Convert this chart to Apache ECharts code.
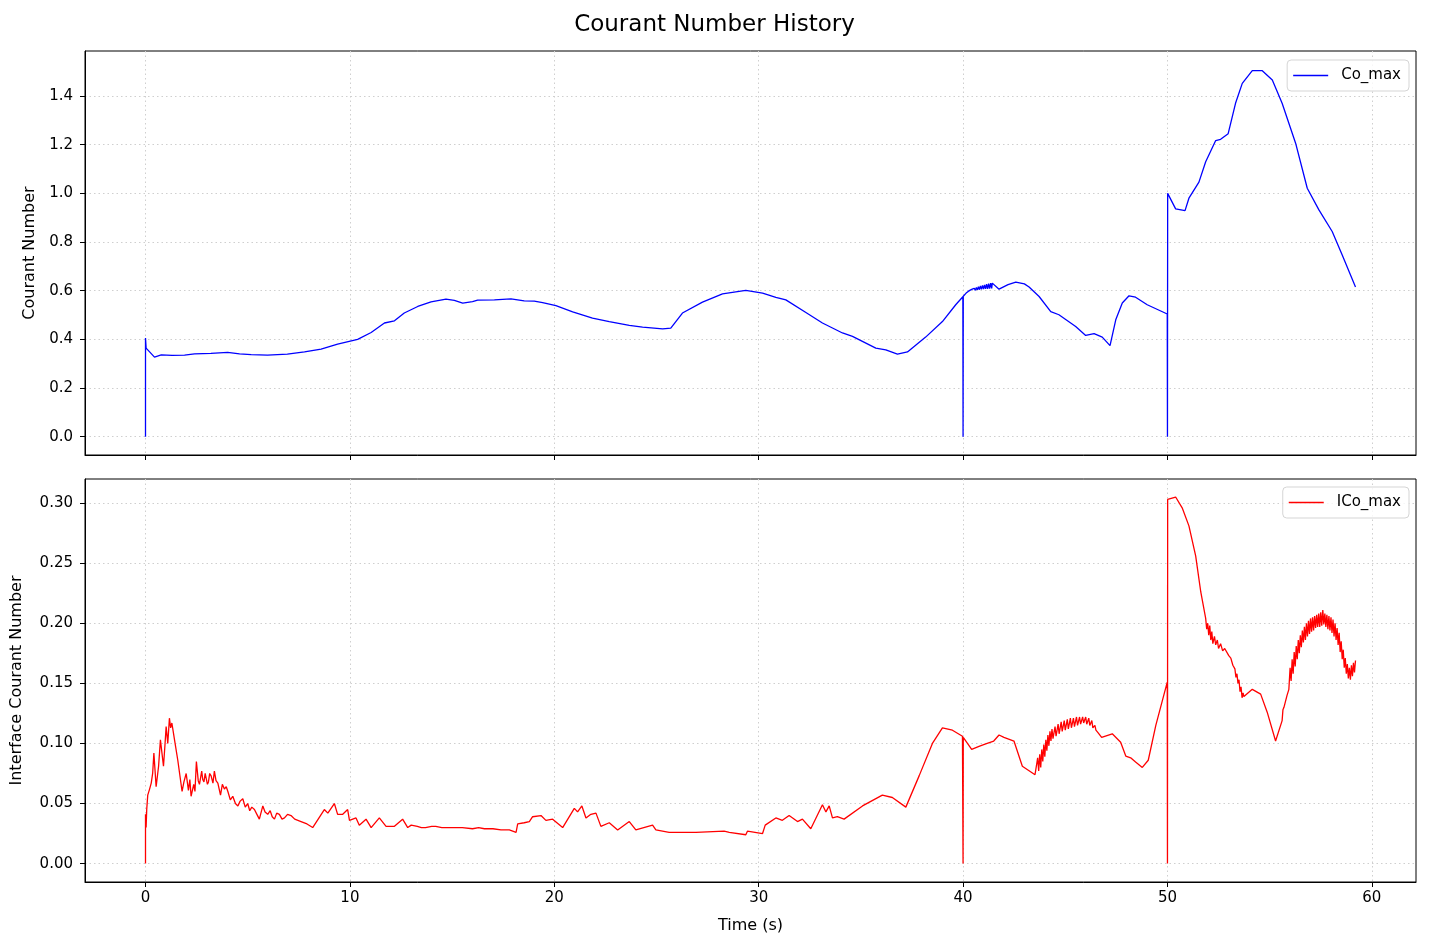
<!DOCTYPE html>
<html>
<head>
<meta charset="utf-8">
<script src="https://cdn.jsdelivr.net/npm/echarts@6/dist/echarts.min.js"></script>
<style>
html,body{margin:0;padding:0;background:#fff;}
#chart{width:1429px;height:949px;}
</style>
</head>
<body>
<div id="chart"></div>
<script>
// ---- Data ----
const coTime = [0, 0, 0.03, 0.44, 0.77, 1.3, 1.91, 2.40, 3.2, 4.02, 4.6, 5.17, 5.97, 6.94, 7.78, 8.59, 9.40, 10.38, 11.04, 11.69, 12.18, 12.66, 13.32, 13.97, 14.70, 15.11, 15.52, 16.0, 16.25, 17.07, 17.88, 18.53, 19.02, 19.43, 20.08, 20.9, 21.87, 22.69, 23.67, 24.32, 25.3, 25.7, 26.27, 27.25, 28.23, 29.37, 30.19, 30.84, 31.33, 32.31, 33.12, 34.1, 34.59, 35.73, 36.22, 36.79, 37.28, 38.17, 38.99, 39.64, 39.99, 40.0, 40.01,
  40.1, 40.15, 40.2, 40.25, 40.3, 40.35, 40.4, 40.45, 40.5, 40.55, 40.6, 40.65, 40.7, 40.75, 40.8, 40.85, 40.9, 40.95, 41.0, 41.05, 41.1, 41.15, 41.2, 41.25, 41.3, 41.35, 41.4, 41.43,
  41.76, 42.2, 42.58, 43.0, 43.23, 43.72, 44.29, 44.69, 45.51, 46.0, 46.41, 46.81, 47.19, 47.47, 47.79, 48.12, 48.44, 49.01, 49.99, 50.0, 50.01, 50.4, 50.86, 51.05, 51.54, 51.87, 52.36, 52.6, 52.97, 53.33, 53.66, 54.15, 54.64, 55.13, 55.61, 56.27, 56.84, 57.41, 58.06, 58.55, 59.2];
const coValue = [0, 0.405, 0.364, 0.327, 0.336, 0.334, 0.335, 0.34, 0.342, 0.346, 0.340, 0.337, 0.335, 0.339, 0.348, 0.36, 0.38, 0.40, 0.428, 0.467, 0.476, 0.508, 0.535, 0.554, 0.565, 0.56, 0.549, 0.555, 0.561, 0.562, 0.566, 0.558, 0.557, 0.551, 0.538, 0.513, 0.487, 0.473, 0.457, 0.45, 0.443, 0.446, 0.508, 0.553, 0.587, 0.601, 0.59, 0.572, 0.562, 0.51, 0.467, 0.426, 0.412, 0.364, 0.357, 0.339, 0.348, 0.409, 0.473, 0.542, 0.575, 0, 0.577,
  0.585, 0.590, 0.588, 0.597, 0.592, 0.602, 0.596, 0.606, 0.599, 0.610, 0.601, 0.613, 0.603, 0.616, 0.604, 0.619, 0.605, 0.622, 0.606, 0.624, 0.607, 0.627, 0.607, 0.629, 0.608, 0.631, 0.609, 0.631,
  0.606, 0.625, 0.635, 0.628, 0.615, 0.576, 0.514, 0.501, 0.453, 0.416, 0.423, 0.409, 0.374, 0.48, 0.549, 0.579, 0.573, 0.542, 0.504, 0, 1.0, 0.936, 0.929, 0.98, 1.046, 1.13, 1.217, 1.222, 1.245, 1.37, 1.452, 1.504, 1.504, 1.466, 1.37, 1.206, 1.021, 0.932, 0.843, 0.747, 0.615];

const icoTime = [0, 0, 0.03, 0.06, 0.11, 0.2, 0.28, 0.35, 0.41, 0.52, 0.64, 0.73, 0.88, 0.95, 1.01, 1.09, 1.17, 1.23, 1.29, 1.42, 1.58, 1.79, 1.88, 1.99, 2.1, 2.17, 2.23, 2.36, 2.42, 2.49, 2.58, 2.64, 2.75, 2.8, 2.86, 2.92, 2.97, 3.03, 3.08, 3.14, 3.21, 3.3, 3.37, 3.45, 3.54, 3.67, 3.76, 3.86, 3.95, 4.03, 4.15, 4.27, 4.4, 4.52, 4.63, 4.76, 4.88, 5.0, 5.1, 5.2, 5.33, 5.45, 5.57, 5.74, 5.85, 5.98, 6.1, 6.2, 6.31, 6.42, 6.55, 6.68, 6.80, 6.95, 7.12, 7.3, 7.61, 7.9, 8.18, 8.75, 8.92, 9.24, 9.40, 9.65, 9.89, 9.98, 10.3, 10.46, 10.79, 11.04, 11.44, 11.77, 12.18, 12.58, 12.83, 13.0, 13.3, 13.5, 13.7, 14.0, 14.2, 14.5, 14.95, 15.2, 15.5, 16.0, 16.3, 16.58, 17.0, 17.39, 17.8, 18.13, 18.21, 18.53, 18.78, 18.94, 19.35, 19.59, 19.92, 20.41, 20.98, 21.14, 21.35, 21.55, 21.79, 22.04, 22.28, 22.69, 23.10, 23.67, 23.99, 24.81, 24.97, 25.62, 26.93, 28.31, 28.56, 29.37, 29.45, 30.19, 30.32, 30.84, 31.16, 31.49, 31.9, 32.14, 32.55, 33.12, 33.29, 33.45, 33.61, 33.85, 34.18, 35.08, 36.05, 36.54, 37.2, 37.85, 38.5, 38.99, 39.48, 39.97, 40.0, 40.01, 40.42, 40.78, 41.11, 41.5, 41.76, 42.0, 42.49, 42.9, 43.52,
  43.6, 43.65, 43.7, 43.75, 43.8, 43.85, 43.9, 43.95, 44.0, 44.05, 44.1, 44.15, 44.2, 44.25, 44.3, 44.35, 44.4, 44.5, 44.55, 44.65, 44.7, 44.8, 44.85, 44.95, 45.0, 45.1, 45.15, 45.25, 45.3, 45.4, 45.45, 45.55, 45.6, 45.7, 45.75, 45.85, 45.9, 46.0, 46.05, 46.15, 46.2, 46.3, 46.35, 46.45, 46.5, 46.6,
  46.78, 47.3, 47.71, 47.96, 48.2, 48.44, 48.77, 49.06, 49.43, 49.99, 50.0, 50.01, 50.4, 50.72, 51.05, 51.38, 51.63,
  51.87, 51.92, 51.97, 52.02, 52.07, 52.12, 52.17, 52.22, 52.3, 52.36, 52.44, 52.5, 52.6, 52.7, 52.8, 53.0, 53.1, 53.2, 53.3, 53.35, 53.4, 53.45, 53.5, 53.55, 53.6, 53.65, 53.7, 53.74,
  54.15, 54.56, 54.88, 55.29, 55.61, 55.65, 55.7, 55.85,
  55.94, 56.0, 56.05, 56.1, 56.15, 56.2, 56.25, 56.3, 56.35, 56.4, 56.45, 56.5, 56.55, 56.6, 56.65, 56.7, 56.75, 56.8, 56.85, 56.9, 56.95, 57.0, 57.05, 57.1, 57.15, 57.2, 57.25, 57.3, 57.35, 57.4, 57.45, 57.5, 57.55, 57.6, 57.65, 57.7, 57.75, 57.8, 57.85, 57.9, 57.95, 58.0, 58.05, 58.1, 58.15, 58.2, 58.25, 58.3, 58.35, 58.4, 58.45, 58.5, 58.55, 58.6, 58.65, 58.7, 58.75, 58.8, 58.85, 58.9, 58.95, 59.0, 59.05, 59.1, 59.15, 59.2];
const icoValue = [0, 0.041, 0.030, 0.045, 0.057, 0.062, 0.067, 0.075, 0.092, 0.064, 0.081, 0.103, 0.081, 0.098, 0.114, 0.100, 0.121, 0.113, 0.117, 0.103, 0.086, 0.060, 0.068, 0.075, 0.061, 0.070, 0.056, 0.066, 0.060, 0.085, 0.069, 0.066, 0.077, 0.070, 0.068, 0.075, 0.074, 0.066, 0.068, 0.075, 0.073, 0.067, 0.077, 0.069, 0.067, 0.057, 0.066, 0.062, 0.064, 0.060, 0.053, 0.056, 0.050, 0.048, 0.052, 0.054, 0.047, 0.050, 0.044, 0.047, 0.045, 0.041, 0.037, 0.048, 0.043, 0.041, 0.044, 0.039, 0.037, 0.042, 0.041, 0.037, 0.038, 0.041, 0.040, 0.037, 0.035, 0.033, 0.030, 0.045, 0.042, 0.050, 0.041, 0.041, 0.045, 0.036, 0.038, 0.032, 0.037, 0.030, 0.038, 0.031, 0.031, 0.037, 0.030, 0.032, 0.031, 0.030, 0.030, 0.031, 0.031, 0.030, 0.030, 0.030, 0.030, 0.029, 0.030, 0.029, 0.029, 0.028, 0.028, 0.026, 0.033, 0.034, 0.035, 0.039, 0.040, 0.036, 0.037, 0.030, 0.046, 0.043, 0.048, 0.038, 0.041, 0.042, 0.031, 0.034, 0.028, 0.035, 0.028, 0.032, 0.028, 0.026, 0.026, 0.027, 0.026, 0.024, 0.027, 0.025, 0.032, 0.038, 0.036, 0.040, 0.035, 0.037, 0.029, 0.049, 0.043, 0.048, 0.038, 0.039, 0.037, 0.048, 0.057, 0.055, 0.047, 0.073, 0.100, 0.113, 0.111, 0.106, 0, 0.105, 0.095, 0.0975, 0.0997, 0.102, 0.107, 0.105, 0.102, 0.081, 0.074,
  0.074, 0.088, 0.077, 0.091, 0.080, 0.095, 0.085, 0.099, 0.089, 0.103, 0.094, 0.107, 0.098, 0.110, 0.102, 0.112, 0.104, 0.114, 0.106, 0.116, 0.108, 0.118, 0.110, 0.119, 0.111, 0.120, 0.112, 0.121, 0.113, 0.121, 0.114, 0.122, 0.115, 0.122, 0.116, 0.122, 0.117, 0.122, 0.116, 0.121, 0.115, 0.119, 0.113, 0.115, 0.111, 0.109,
  0.105, 0.108, 0.101, 0.0895, 0.088, 0.0845, 0.080, 0.086, 0.115, 0.151, 0, 0.303, 0.305, 0.296, 0.281, 0.256, 0.226,
  0.204, 0.195, 0.200, 0.190, 0.198, 0.186, 0.193, 0.183, 0.189, 0.182, 0.186, 0.179, 0.183, 0.177, 0.179, 0.173, 0.171, 0.165, 0.162, 0.155, 0.158, 0.150, 0.153, 0.143, 0.147, 0.138, 0.142, 0.139,
  0.145, 0.141, 0.126, 0.102, 0.119, 0.128, 0.130, 0.140,
  0.145, 0.163, 0.152, 0.170, 0.158, 0.176, 0.164, 0.181, 0.170, 0.186, 0.175, 0.190, 0.180, 0.194, 0.184, 0.197, 0.186, 0.200, 0.189, 0.202, 0.191, 0.204, 0.193, 0.205, 0.194, 0.206, 0.196, 0.207, 0.197, 0.208, 0.197, 0.209, 0.198, 0.211, 0.199, 0.208, 0.197, 0.207, 0.195, 0.206, 0.194, 0.205, 0.192, 0.203, 0.189, 0.200, 0.186, 0.196, 0.182, 0.192, 0.176, 0.185, 0.170, 0.178, 0.163, 0.171, 0.158, 0.166, 0.154, 0.163, 0.153, 0.165, 0.156, 0.167, 0.159, 0.169];

const xTicks = [0, 10, 20, 30, 40, 50, 60];
const coTicks = [0, 0.2, 0.4, 0.6, 0.8, 1.0, 1.2, 1.4];
const icoTicks = [0, 0.05, 0.10, 0.15, 0.20, 0.25, 0.30];

// ---- Chart ----
const FONT = 'DejaVu Sans';
const pairs = (ts, vs) => ts.map((t, i) => [t, vs[i]]);

function xAxis(gridIndex, showLabels) {
  return {
    type: 'value', gridIndex: gridIndex, min: -2.96, max: 62.16,
    name: showLabels ? 'Time (s)' : '', nameLocation: 'middle', nameGap: 36,
    nameTextStyle: { fontFamily: FONT, fontSize: 16, color: '#000' },
    axisLine: { show: true, onZero: false, lineStyle: { color: '#000', width: 1 } },
    axisTick: { show: true, inside: false, length: 5, customValues: xTicks, lineStyle: { color: '#000', width: 1 } },
    axisLabel: { show: showLabels, customValues: xTicks, margin: 9, fontFamily: FONT, fontSize: 15, color: '#000' },
    splitLine: { show: true, lineStyle: { color: '#cfcfcf', type: [1.5, 3], width: 1 } }
  };
}
function yAxis(gridIndex, name, min, max, ticks, digits, gap) {
  return {
    type: 'value', gridIndex: gridIndex, min: min, max: max,
    name: name, nameLocation: 'middle', nameGap: gap, nameRotate: 90,
    nameTextStyle: { fontFamily: FONT, fontSize: 16, color: '#000' },
    axisLine: { show: true, onZero: false, lineStyle: { color: '#000', width: 1 } },
    axisTick: { show: true, length: 5, customValues: ticks, lineStyle: { color: '#000', width: 1 } },
    axisLabel: { show: true, customValues: ticks, margin: 12, fontFamily: FONT, fontSize: 15, color: '#000',
      formatter: v => Number(v).toFixed(digits) },
    splitLine: { show: true, lineStyle: { color: '#cfcfcf', type: [1.5, 3], width: 1 } }
  };
}
function legend(name, top) {
  return {
    data: [name], right: 20, top: top, orient: 'horizontal',
    icon: 'rect', itemWidth: 35, itemHeight: 1.5,
    padding: [8, 8, 8, 6],
    backgroundColor: 'rgba(255,255,255,0.8)', borderColor: '#d5d5d5', borderWidth: 1, borderRadius: 4,
    textStyle: { fontFamily: FONT, fontSize: 15, color: '#000', padding: [0, 0, 0, 8] }
  };
}

const chart = echarts.init(document.getElementById('chart'), null, { renderer: 'canvas' });
chart.setOption({
  animation: false,
  backgroundColor: '#fff',
  title: { text: 'Courant Number History', left: 'center', top: 9,
    textStyle: { fontFamily: FONT, fontSize: 23, fontWeight: 'normal', color: '#000' } },
  grid: [
    { left: 85, right: 13, top: 51, height: 404, show: true, borderColor: '#000', borderWidth: 1, backgroundColor: 'transparent' },
    { left: 85, right: 13, top: 479, height: 403, show: true, borderColor: '#000', borderWidth: 1, backgroundColor: 'transparent' }
  ],
  xAxis: [xAxis(0, false), xAxis(1, true)],
  yAxis: [
    yAxis(0, 'Courant Number', -0.0755, 1.585, coTicks, 1, 47),
    yAxis(1, 'Interface Courant Number', -0.0153, 0.320, icoTicks, 2, 60)
  ],
  legend: [legend('Co_max', 60), legend('ICo_max', 487)],
  series: [
    { name: 'Co_max', type: 'line', xAxisIndex: 0, yAxisIndex: 0, data: pairs(coTime, coValue),
      showSymbol: false, symbol: 'none', lineStyle: { color: '#0000ff', width: 1.3 }, itemStyle: { color: '#0000ff' } },
    { name: 'ICo_max', type: 'line', xAxisIndex: 1, yAxisIndex: 1, data: pairs(icoTime, icoValue),
      showSymbol: false, symbol: 'none', lineStyle: { color: '#ff0000', width: 1.3 }, itemStyle: { color: '#ff0000' } }
  ]
});
</script>
</body>
</html>
